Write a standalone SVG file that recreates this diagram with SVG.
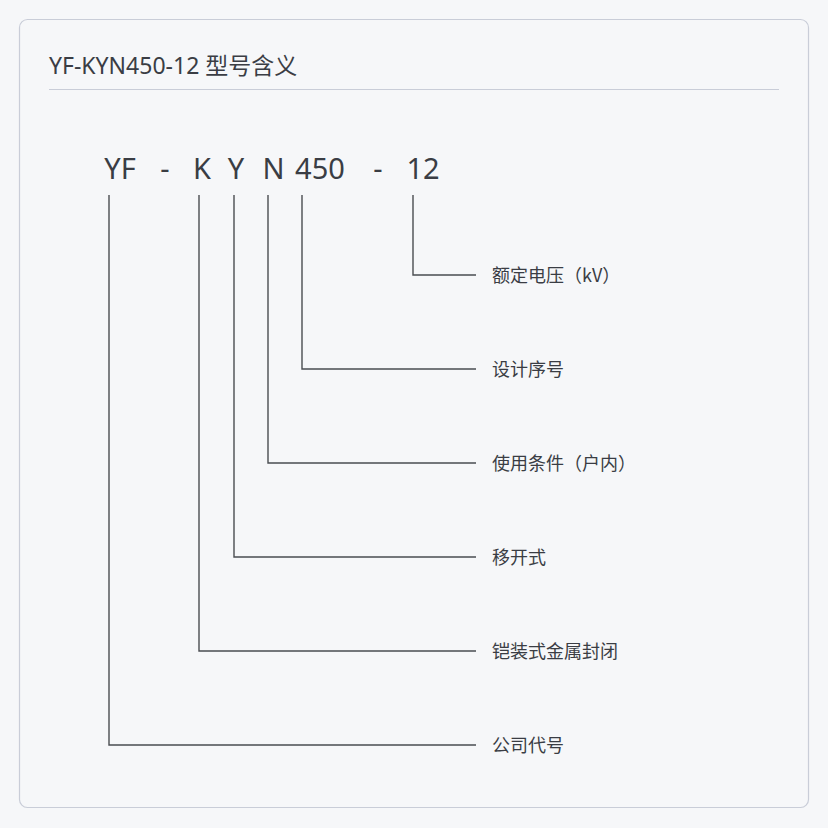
<svg xmlns="http://www.w3.org/2000/svg" width="828" height="828" viewBox="0 0 828 828">
<style>
.bg{fill:#f6f7f9}
.card{fill:#f6f7f9;stroke:#c9cdd8;stroke-width:1.2}
.title{font-family:"Noto Sans","Noto Sans CJK SC",sans-serif;font-size:23px;fill:#3a3d44}
.code{font-family:"Noto Sans","Noto Sans CJK SC",sans-serif;font-size:29px;fill:#3a3d44}
.lbl{font-family:"Noto Sans CJK SC","Noto Sans",sans-serif;font-size:18px;fill:#3a3d44}
.conn{fill:none;stroke:#4a4d52;stroke-width:1.4}
</style>
<rect class="bg" x="0" y="0" width="828" height="828"/>
<rect class="card" x="19.5" y="19.5" width="789" height="788" rx="8"/>
<g id="title">
<text class="title" x="49" y="74">YF-KYN450-12 型号含义</text>
<line x1="49" y1="89.5" x2="779" y2="89.5" stroke="#c9cdd8" stroke-width="1.2"/>
</g>
<g id="code">
<text class="code" y="179" text-anchor="middle"><tspan x="120">YF</tspan><tspan x="165">-</tspan><tspan x="202">K</tspan><tspan x="236">Y</tspan><tspan x="273.5">N</tspan><tspan x="320">450</tspan><tspan x="378">-</tspan><tspan x="423">12</tspan></text>
</g>
<g id="connectors">
<polyline class="conn" points="413,195 413,275 476,275"/>
<polyline class="conn" points="302,195 302,369 476,369"/>
<polyline class="conn" points="268,195 268,463 476,463"/>
<polyline class="conn" points="234,195 234,557 476,557"/>
<polyline class="conn" points="199,195 199,651 476,651"/>
<polyline class="conn" points="109,195 109,745 476,745"/>
</g>
<g id="label-voltage"><text class="lbl" x="492" y="282">额定电压（kV）</text></g>
<g id="label-design"><text class="lbl" x="492" y="376">设计序号</text></g>
<g id="label-condition"><text class="lbl" x="492" y="470">使用条件（户内）</text></g>
<g id="label-removable"><text class="lbl" x="492" y="564">移开式</text></g>
<g id="label-enclosure"><text class="lbl" x="492" y="658">铠装式金属封闭</text></g>
<g id="label-company"><text class="lbl" x="492" y="752">公司代号</text></g>
</svg>
